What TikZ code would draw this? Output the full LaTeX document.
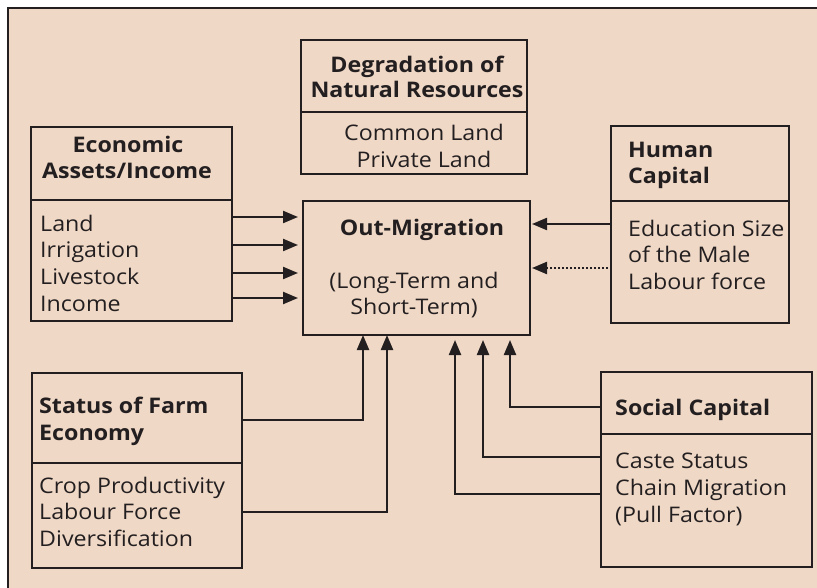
\documentclass[tikz,border=0pt]{standalone}
\usepackage{fontspec}
\setmainfont[FakeStretch=1.08]{Open Sans}
\usetikzlibrary{arrows.meta}
\definecolor{bg}{RGB}{240,216,198}
\definecolor{ink}{RGB}{35,31,32}
\begin{document}
\begin{tikzpicture}[x=1pt,y=-1pt,
  box/.style={draw=ink,line width=2pt,rectangle,anchor=north west,inner sep=0pt,outer sep=0pt},
  divline/.style={draw=ink,line width=2pt},
  body/.style={inner sep=0pt,text=ink,font=\fontsize{21.5}{25}\selectfont},
  ttl/.style={inner sep=0pt,text=ink,font=\fontsize{21.5}{25}\selectfont\bfseries},
  arr/.style={draw=ink,line width=2.2pt,-{Triangle[length=15pt,width=12pt]}},
  dotarr/.style={arr,dash pattern=on 2pt off 2pt}
]
\useasboundingbox (0,0) rectangle (817,588);
\fill[white] (0,0) rectangle (817,588);
\clip (0,0) rectangle (817,588);
\fill[bg] (8,8) rectangle (830,600);
\draw[ink,line width=2.5pt] (830,8) -- (8,8) -- (8,600);

% boxes
\node[box,minimum width=226pt,minimum height=134pt] (deg) at (301,40) {};
\node[box,minimum width=201pt,minimum height=194pt] (econ) at (31,127) {};
\node[box,minimum width=227pt,minimum height=134pt] (outm) at (303,201) {};
\node[box,minimum width=178pt,minimum height=197pt] (human) at (611,126) {};
\node[box,minimum width=210pt,minimum height=195pt] (farm) at (32,373) {};
\node[box,minimum width=211pt,minimum height=195pt] (social) at (601,372) {};

% dividers
\draw[divline] (deg.west |- 0,112) -- (deg.east |- 0,112);
\draw[divline] (econ.west |- 0,200) -- (econ.east |- 0,200);
\draw[divline] (human.west |- 0,201) -- (human.east |- 0,201);
\draw[divline] (farm.west |- 0,463) -- (farm.east |- 0,463);
\draw[divline] (social.west |- 0,434) -- (social.east |- 0,434);

% Degradation texts
\node[ttl,anchor=base] (deg1) at (417,73) {Degradation of};
\node[ttl,anchor=base] (deg2) at (417,98) {Natural Resources};
\node[body,anchor=base] (deg3) at (424,141) {Common Land};
\node[body,anchor=base] (deg4) at (424,168) {Private Land};

% Economic texts
\node[ttl,anchor=base] (eco1) at (128,153) {Economic};
\node[ttl,anchor=base] (eco2) at (127,179) {Assets/Income};
\node[body,anchor=base west] (eco3) at (40,232) {Land};
\node[body,anchor=base west] (eco4) at (40,258) {Irrigation};
\node[body,anchor=base west] (eco5) at (40,284) {Livestock};
\node[body,anchor=base west] (eco6) at (40,311) {Income};

% Out-Migration texts
\node[ttl,anchor=base] (out1) at (422,236) {Out-Migration};
\node[body,anchor=base] (out2) at (414,288) {(Long-Term and};
\node[body,anchor=base] (out3) at (414,314) {Short-Term)};

% Human capital texts
\node[ttl,anchor=base west] (hum1) at (628,158) {Human};
\node[ttl,anchor=base west] (hum2) at (628,184) {Capital};
\node[body,anchor=base west] (hum3) at (628,237) {Education Size};
\node[body,anchor=base west] (hum4) at (628,263) {of the Male};
\node[body,anchor=base west] (hum5) at (628,290) {Labour force};

% Farm texts
\node[ttl,anchor=base west] (farm1) at (39,413) {Status of Farm};
\node[ttl,anchor=base west] (farm2) at (39,440) {Economy};
\node[body,anchor=base west] (farm3) at (39,493) {Crop Productivity};
\node[body,anchor=base west] (farm4) at (39,519) {Labour Force};
\node[body,anchor=base west] (farm5) at (39,546) {Diversification};

% Social texts
\node[ttl,anchor=base west] (soc1) at (615,415) {Social Capital};
\node[body,anchor=base west] (soc2) at (615,468) {Caste Status};
\node[body,anchor=base west] (soc3) at (615,495) {Chain Migration};
\node[body,anchor=base west] (soc4) at (615,522) {(Pull Factor)};

% arrows from economic assets
\draw[arr,shorten >=5pt] (econ.east |- 0,217) -- (outm.west |- 0,217);
\draw[arr,shorten >=5pt] (econ.east |- 0,245) -- (outm.west |- 0,245);
\draw[arr,shorten >=5pt] (econ.east |- 0,273) -- (outm.west |- 0,273);
\draw[arr,shorten >=5pt] (econ.east |- 0,298) -- (outm.west |- 0,298);

% arrows from human capital
\draw[arr,shorten >=2pt] (human.west |- 0,224) -- (outm.east |- 0,224);
\draw[dotarr,shorten >=2pt] ([xshift=-3pt]human.west |- 0,268) -- (outm.east |- 0,268);

% arrows from farm economy
\draw[arr] (farm.east |- 0,420) -| (outm.south -| 363,0);
\draw[arr] (farm.east |- 0,512) -| (outm.south -| 387,0);

% arrows from social capital
\draw[arr,shorten >=5pt] (social.west |- 0,407) -| (outm.south -| 510,0);
\draw[arr,shorten >=5pt] (social.west |- 0,457) -| (outm.south -| 483,0);
\draw[arr,shorten >=5pt] (social.west |- 0,494) -| (outm.south -| 455,0);
\end{tikzpicture}
\end{document}
